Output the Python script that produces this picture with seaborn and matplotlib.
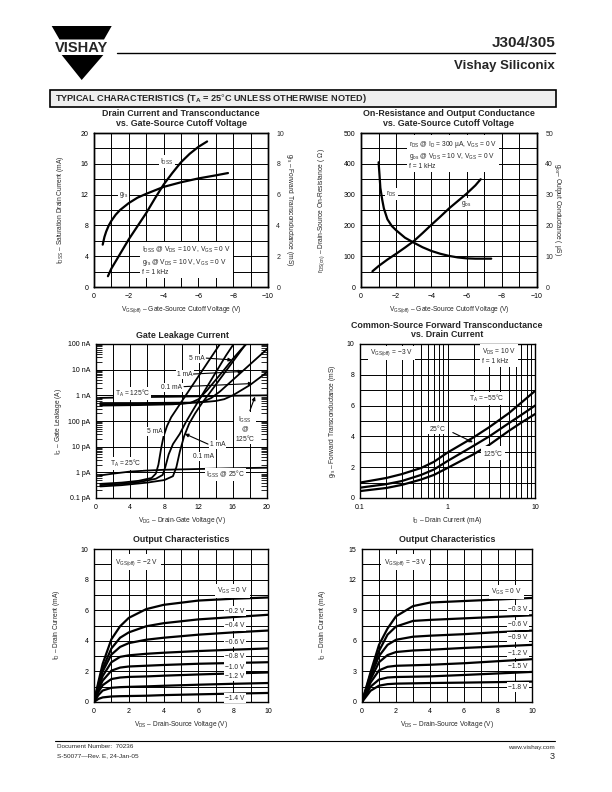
import numpy as np
import matplotlib
matplotlib.use("Agg")
import matplotlib.pyplot as plt
import seaborn as sns
from matplotlib import font_manager
from matplotlib.patches import Rectangle, Polygon
from matplotlib.lines import Line2D
from matplotlib.ticker import LogLocator, NullFormatter, FixedLocator

# ---------------- data ----------------
# Chart 1: Drain current / transconductance vs VGS(off)
idss_v = [-0.8, -1.0, -1.5, -2.0, -2.5, -3.0, -3.5, -4.0, -4.5, -5.0, -5.5, -6.0, -6.5]
idss_ma = [1.4, 2.4, 4.3, 6.2, 7.9, 9.6, 11.5, 13.3, 14.8, 16.2, 17.3, 18.2, 18.9]
gfs_v = [-0.5, -0.6, -0.7, -0.85, -1.0, -1.25, -1.5, -2.0, -2.5, -3.0, -4.0, -5.0, -6.0, -7.0, -7.7]
gfs_ms = [2.75, 3.25, 3.6, 4.0, 4.3, 4.7, 5.0, 5.45, 5.8, 6.05, 6.5, 6.8, 7.05, 7.25, 7.4]

# Chart 2: On-resistance / output conductance vs VGS(off)
rds_v = [-1.0, -1.05, -1.1, -1.2, -1.3, -1.5, -1.75, -2.0, -2.5, -3.0, -3.5, -4.0, -4.5, -5.0, -5.5, -6.0, -6.5, -7.0, -7.4]
rds_ohm = [405, 365, 322, 285, 255, 220, 198, 184, 160, 144, 129, 117, 108, 101, 96, 93, 92, 92, 92]
gos_v = [-0.65, -1.0, -1.5, -2.0, -2.5, -3.0, -3.5, -4.0, -4.5, -5.0, -5.5, -6.0, -6.5, -6.8]
gos_us = [5.1, 6.8, 8.9, 10.8, 12.8, 14.9, 17.5, 20.2, 22.8, 25.5, 27.9, 30.3, 33.0, 35.0]

# Chart 3: Gate leakage (log10 of amps) vs VDG
igss25_v = [0.5, 2, 4, 6, 8, 12, 16, 20]
igss25_log = [-12.12, -12.05, -11.97, -11.93, -11.9, -11.87, -11.84, -11.82]
ig25_5ma_v = [0.5, 3, 5, 6.5, 7.0, 7.3, 7.6, 7.9, 8.3, 8.8, 9.5, 10.3, 11, 12, 13, 14, 14.5]
ig25_5ma_log = [-12.45, -12.4, -12.33, -12.22, -12.05, -11.7, -11.1, -10.6, -10.2, -9.85, -9.5, -9.1, -8.75, -8.25, -7.75, -7.25, -7.0]
ig25_1ma_v = [0.5, 3, 5, 7, 7.8, 8.1, 8.5, 9.0, 9.8, 10.5, 11.3, 12.2, 13.2, 14.2, 15.2, 16.1]
ig25_1ma_log = [-12.5, -12.45, -12.38, -12.25, -12.1, -11.8, -11.3, -10.9, -10.5, -10.05, -9.6, -9.1, -8.55, -8.0, -7.45, -7.0]
ig25_01ma_v = [0.5, 3, 6, 8, 9.0, 9.4, 9.8, 10.3, 10.9, 11.6, 12.4, 13.2, 14.2, 15.2, 16.2, 17.2, 17.5]
ig25_01ma_log = [-12.55, -12.5, -12.4, -12.3, -12.15, -11.8, -11.2, -10.6, -10.1, -9.7, -9.3, -8.95, -8.5, -8.05, -7.6, -7.15, -7.0]
igss125_v = [0.5, 5, 10, 15, 20]
igss125_log = [-9.1, -9.07, -9.05, -9.02, -9.0]
ig125_5ma_v = [0.5, 5, 9, 11, 12, 13, 14, 15, 16, 17, 17.6]
ig125_5ma_log = [-9.4, -9.38, -9.35, -9.3, -9.15, -8.8, -8.4, -8.0, -7.58, -7.2, -7.0]
ig125_1ma_v = [0.5, 5, 10, 12.5, 13.5, 14.5, 15.5, 16.5, 17.5, 18.5, 20]
ig125_1ma_log = [-9.35, -9.34, -9.32, -9.25, -9.1, -8.85, -8.55, -8.25, -7.95, -7.65, -7.2]
ig125_01ma_v = [0.5, 5, 12, 14, 15, 16, 17, 18, 19, 20]
ig125_01ma_log = [-9.3, -9.3, -9.28, -9.22, -9.15, -9.0, -8.8, -8.6, -8.35, -8.1]

# Chart 4: gfs vs drain current
id_ma = [0.1, 0.2, 0.3, 0.5, 0.7, 1, 2, 3, 5, 7, 10]
gfs_m55 = [1.0, 1.3, 1.55, 1.95, 2.35, 2.95, 3.95, 4.6, 5.5, 6.2, 6.95]
gfs_25 = [0.67, 0.9, 1.1, 1.5, 1.85, 2.4, 3.4, 4.0, 4.85, 5.4, 6.0]
gfs_125 = [0.45, 0.65, 0.85, 1.2, 1.5, 1.95, 2.85, 3.45, 4.35, 4.9, 5.45]

# Chart 5: output characteristics, VGS(off) = -2 V
vds5 = [0, 0.25, 0.5, 1, 1.5, 2, 3, 4, 6, 8, 10]
out2_labels = ["0 V", "−0.2 V", "−0.4 V", "−0.6 V", "−0.8 V", "−1.0 V", "−1.2 V", "−1.4 V"]
out2_id = [
    [0, 1.3, 2.5, 4.1, 4.95, 5.5, 6.07, 6.35, 6.63, 6.75, 6.83],
    [0, 1.15, 2.2, 3.5, 4.2, 4.55, 4.95, 5.15, 5.4, 5.55, 5.7],
    [0, 1.05, 2.0, 3.1, 3.6, 3.85, 4.07, 4.2, 4.4, 4.55, 4.67],
    [0, 0.95, 1.7, 2.6, 2.95, 3.05, 3.15, 3.22, 3.33, 3.42, 3.5],
    [0, 0.8, 1.4, 2.05, 2.25, 2.32, 2.37, 2.42, 2.5, 2.55, 2.6],
    [0, 0.65, 1.1, 1.5, 1.6, 1.64, 1.67, 1.72, 1.8, 1.87, 1.93],
    [0, 0.45, 0.75, 0.93, 0.97, 0.99, 1.02, 1.06, 1.13, 1.19, 1.24],
    [0, 0.2, 0.3, 0.36, 0.38, 0.39, 0.41, 0.45, 0.5, 0.55, 0.59],
]
out2_lab_y = [7.26, 5.93, 4.98, 3.89, 2.96, 2.28, 1.67, 0.26]

# Chart 6: output characteristics, VGS(off) = -3 V
vds6 = [0, 0.5, 1, 1.5, 2, 3, 4, 6, 8, 10]
out3_labels = ["0 V", "−0.3 V", "−0.6 V", "−0.9 V", "−1.2 V", "−1.5 V", "−1.8 V"]
out3_id = [
    [0, 2.9, 5.6, 7.2, 8.4, 9.4, 9.75, 9.9, 10.05, 10.2],
    [0, 2.7, 5.0, 6.6, 7.4, 7.95, 8.05, 8.2, 8.35, 8.5],
    [0, 2.5, 4.5, 5.6, 6.1, 6.4, 6.5, 6.65, 6.85, 7.0],
    [0, 2.2, 3.9, 4.6, 4.9, 5.05, 5.12, 5.3, 5.45, 5.6],
    [0, 1.9, 3.1, 3.45, 3.55, 3.6, 3.65, 3.8, 4.0, 4.2],
    [0, 1.5, 2.2, 2.4, 2.45, 2.48, 2.51, 2.65, 2.8, 2.95],
    [0, 1.1, 1.6, 1.75, 1.8, 1.83, 1.86, 1.9, 1.95, 2.0],
]
out3_lab_y = [10.8, 9.03, 7.57, 6.36, 4.8, 3.49, 1.47]

# ---------------- style ----------------
sns.set_theme(style="white")
avail = {f.name for f in font_manager.fontManager.ttflist}
BASE = "Liberation Sans" if "Liberation Sans" in avail else "DejaVu Sans"
NARROW = "Liberation Sans Narrow" if "Liberation Sans Narrow" in avail else BASE
plt.rcParams["font.family"] = [BASE, "DejaVu Sans"]
plt.rcParams["mathtext.fontset"] = "custom"
plt.rcParams["mathtext.rm"] = BASE
plt.rcParams["mathtext.it"] = BASE + ":italic"
plt.rcParams["mathtext.bf"] = BASE + ":bold"
plt.rcParams["axes.unicode_minus"] = True

W, H = 612, 792
fig = plt.figure(figsize=(W / 100, H / 100), dpi=100)
fig.patch.set_facecolor("white")

LW = 1.6
TFS = 5.0   # tick font size
AFS = 4.8   # axis label font size


def P(x, y):
    return (x / W, 1 - y / H)


def add_axes(l, r, t, b):
    return fig.add_axes([l / W, 1 - b / H, (r - l) / W, (b - t) / H])


def style(ax):
    for s in ax.spines.values():
        s.set_color("black")
        s.set_linewidth(1.0)
    ax.set_facecolor("white")


def lin_grid(ax, xlim, ylim, xmaj, xmin, ymaj, ymin, xlabels=None, ylabels=None):
    ax.set_xlim(xlim)
    ax.set_ylim(ylim)
    ax.set_xticks(xmaj)
    ax.set_yticks(ymaj)
    ax.set_xticks(xmin, minor=True)
    ax.set_yticks(ymin, minor=True)
    if xlabels is not None:
        ax.set_xticklabels(xlabels)
    if ylabels is not None:
        ax.set_yticklabels(ylabels)
    ax.grid(which="both", color="black", lw=0.7)
    ax.tick_params(which="both", length=0, labelsize=TFS, pad=4, colors="black")
    style(ax)


def lab(ax, x, y, s, ha="center", va="center", fs=4.8, z=5, pad=0.15, ls=1.2):
    ax.text(x, y, s, ha=ha, va=va, fontsize=fs, zorder=z, linespacing=ls,
            bbox=dict(boxstyle=f"square,pad={pad}", fc="white", ec="none"))


def arrow(ax, start, tip):
    ax.annotate("", xy=tip, xytext=start, zorder=6,
                arrowprops=dict(arrowstyle="-|>", color="black", lw=0.8,
                                mutation_scale=5, shrinkA=0, shrinkB=0))


def curve(ax, x, y, lw=LW):
    sns.lineplot(x=np.asarray(x, float), y=np.asarray(y, float), ax=ax, color="black",
                 linewidth=lw, estimator=None, sort=False, zorder=3, legend=False)


def title(xc, lines, y0, dy=9.5):
    for i, t in enumerate(lines):
        fig.text(*P(xc, y0 + i * dy), t, ha="center", va="center", fontsize=6.4,
                 fontweight="bold", family=[NARROW, BASE])


def ylab(x, yc, s, rot=90):
    fig.text(*P(x, yc), s, ha="center", va="center", rotation=rot, fontsize=AFS)


def xlab(xc, y, s):
    fig.text(*P(xc, y), s, ha="center", va="center", fontsize=AFS)


def neg_labels(vals):
    return ["0" if v == 0 else "−%g" % abs(v) for v in vals]


DASH = "–"
DEG = r"$\degree$"

# ---------------- header ----------------
fig.add_artist(Polygon([P(51.7, 26), P(111.7, 26), P(104, 39.5), P(59.5, 39.5)],
                       closed=True, transform=fig.transFigure, fc="black", ec="none"))
fig.add_artist(Polygon([P(61.7, 55), P(103.3, 55), P(81.7, 80)],
                       closed=True, transform=fig.transFigure, fc="black", ec="none"))
fig.text(*P(81.7, 47.5), "VISHAY", ha="center", va="center", fontsize=10.5,
         fontweight="bold", family=[NARROW, BASE])
fig.add_artist(Line2D([117 / W, 555 / W], [1 - 53 / H, 1 - 53 / H], color="black", lw=1.0,
                      transform=fig.transFigure))
fig.text(*P(555, 43), "J304/305", ha="right", va="center", fontsize=11, fontweight="bold",
         family=[NARROW, BASE])
fig.text(*P(555, 66), "Vishay Siliconix", ha="right", va="center", fontsize=9.5,
         fontweight="bold", family=[NARROW, BASE])
fig.add_artist(Rectangle(P(50, 107), 506 / W, 17 / H, transform=fig.transFigure,
                         fc="#efefef", ec="black", lw=1.2))
fig.text(*P(55, 98.5), r"TYPICAL CHARACTERISTICS (T$\mathbf{_A}$ = 25$\degree$C UNLESS OTHERWISE NOTED)",
         ha="left", va="center", fontsize=6.6, fontweight="bold")

# ---------------- chart 1 ----------------
ax1 = add_axes(94, 268, 133, 287)
lin_grid(ax1, (0, -10), (0, 20), [0, -2, -4, -6, -8, -10], list(range(-1, -10, -1)),
         [0, 4, 8, 12, 16, 20], [2, 6, 10, 14, 18], xlabels=neg_labels([0, 2, 4, 6, 8, 10]))
curve(ax1, idss_v, idss_ma)
ax1b = ax1.twinx()
ax1b.set_ylim(0, 10)
ax1b.set_yticks([0, 2, 4, 6, 8, 10])
ax1b.tick_params(length=0, labelsize=TFS, pad=6)
style(ax1b)
curve(ax1b, gfs_v, gfs_ms)
ax1b.set_xlim(0, -10)
lab(ax1, -4.2, 16.3, r"$\mathregular{I_{DSS}}$")
lab(ax1, -1.7, 12.0, r"$\mathregular{g_{fs}}$")
lab(ax1, -2.75, 3.45, r"$\mathregular{I_{DSS}}$ @ $\mathregular{V_{DS}}$ = 10 V, $\mathregular{V_{GS}}$ = 0 V" "\n"
    r"$\mathregular{g_{fs}}$ @ $\mathregular{V_{DS}}$ = 10 V, $\mathregular{V_{GS}}$ = 0 V" "\n" "f = 1 kHz",
    ha="left", pad=0.3)
title(181, ["Drain Current and Transconductance", "vs. Gate-Source Cutoff Voltage"], 114)
ylab(61, 210, r"$\mathregular{I_{DSS}}$ " + DASH + " Saturation Drain Current (mA)")
ylab(289, 210, r"$\mathregular{g_{fs}}$ " + DASH + " Forward Transconductance (mS)", rot=270)
xlab(181, 310, r"$\mathregular{V_{GS(off)}}$ " + DASH + " Gate-Source Cutoff Voltage (V)")

# ---------------- chart 2 ----------------
ax2 = add_axes(361, 537, 133, 287)
lin_grid(ax2, (0, -10), (0, 500), [0, -2, -4, -6, -8, -10], list(range(-1, -10, -1)),
         [0, 100, 200, 300, 400, 500], [50, 150, 250, 350, 450], xlabels=neg_labels([0, 2, 4, 6, 8, 10]))
curve(ax2, rds_v, rds_ohm)
ax2b = ax2.twinx()
ax2b.set_ylim(0, 50)
ax2b.set_yticks([0, 10, 20, 30, 40, 50])
ax2b.tick_params(length=0, labelsize=TFS, pad=6)
style(ax2b)
curve(ax2b, gos_v, gos_us)
ax2b.set_xlim(0, -10)
lab(ax2, -1.72, 303, r"$\mathregular{r_{DS}}$")
lab(ax2, -5.97, 271, r"$\mathregular{g_{os}}$")
lab(ax2, -2.75, 431, r"$\mathregular{r_{DS}}$ @ $\mathregular{I_D}$ = 300 µA, $\mathregular{V_{GS}}$ = 0 V" "\n"
    r"$\mathregular{g_{os}}$ @ $\mathregular{V_{DS}}$ = 10 V, $\mathregular{V_{GS}}$ = 0 V" "\n" "f = 1 kHz",
    ha="left", pad=0.3)
title(449, ["On-Resistance and Output Conductance", "vs. Gate-Source Cutoff Voltage"], 114)
ylab(322, 210, r"$\mathregular{r_{DS(on)}}$ " + DASH + " Drain-Source On-Resistance ( Ω )")
ylab(558, 210, r"$\mathregular{g_{os}}$" + DASH + " Output Conductance ( µS)", rot=270)
xlab(449, 310, r"$\mathregular{V_{GS(off)}}$ " + DASH + " Gate-Source Cutoff Voltage (V)")

# ---------------- chart 3 ----------------
ax3 = add_axes(96, 267, 344, 498)
ax3.set_yscale("log")
ax3.set_xlim(0, 20)
ax3.set_ylim(1e-13, 1e-7)
ax3.set_xticks([0, 4, 8, 12, 16, 20])
ax3.set_xticks([2, 6, 10, 14, 18], minor=True)
ax3.yaxis.set_major_locator(FixedLocator([1e-13, 1e-12, 1e-11, 1e-10, 1e-9, 1e-8, 1e-7]))
ax3.set_yticklabels(["0.1 pA", "1 pA", "10 pA", "100 pA", "1 nA", "10 nA", "100 nA"])
ax3.yaxis.set_minor_locator(LogLocator(base=10, subs=np.arange(2, 10), numticks=20))
ax3.yaxis.set_minor_formatter(NullFormatter())
ax3.grid(which="major", axis="both", color="black", lw=0.7)
ax3.grid(which="minor", axis="x", color="black", lw=0.7)
ax3.tick_params(which="major", length=0, labelsize=TFS, pad=4, colors="black")
ax3.tick_params(axis="x", which="minor", length=0)
ax3.tick_params(axis="y", which="minor", direction="in", length=4, width=0.6,
                left=True, right=True, color="black")
style(ax3)
for vv, ll in [(igss25_v, igss25_log), (ig25_5ma_v, ig25_5ma_log), (ig25_1ma_v, ig25_1ma_log),
               (ig25_01ma_v, ig25_01ma_log), (igss125_v, igss125_log), (ig125_5ma_v, ig125_5ma_log),
               (ig125_1ma_v, ig125_1ma_log), (ig125_01ma_v, ig125_01ma_log)]:
    curve(ax3, vv, 10.0 ** np.asarray(ll), lw=1.3)
E = lambda e: 10.0 ** e
lab(ax3, 4.3, E(-8.93), r"$\mathregular{T_A}$ = 125" + DEG + "C")
lab(ax3, 3.5, E(-11.65), r"$\mathregular{T_A}$ = 25" + DEG + "C")
lab(ax3, 11.8, E(-7.57), "5 mA")
arrow(ax3, (12.9, E(-7.55)), (15.9, E(-7.62)))
lab(ax3, 10.4, E(-8.19), "1 mA")
arrow(ax3, (11.4, E(-8.17)), (17.1, E(-8.07)))
lab(ax3, 8.85, E(-8.69), "0.1 mA")
arrow(ax3, (10.3, E(-8.66)), (18.3, E(-8.54)))
lab(ax3, 17.4, E(-10.3), r"$\mathregular{I_{GSS}}$" "\n@\n125" + DEG + "C", ls=1.1)
arrow(ax3, (18.0, E(-9.6)), (18.6, E(-9.05)))
lab(ax3, 6.9, E(-10.42), "5 mA")
lab(ax3, 14.2, E(-10.93), "1 mA")
arrow(ax3, (13.1, E(-10.9)), (10.4, E(-10.5)))
lab(ax3, 12.6, E(-11.4), "0.1 mA")
lab(ax3, 15.1, E(-12.08), r"$\mathregular{I_{GSS}}$ @ 25" + DEG + "C")
title(182, ["Gate Leakage Current"], 335)
ylab(59, 421, r"$\mathregular{I_G}$ " + DASH + " Gate Leakage (A)")
xlab(182, 520, r"$\mathregular{V_{DG}}$ " + DASH + " Drain-Gate Voltage (V)")

# ---------------- chart 4 ----------------
ax4 = add_axes(360, 535, 344, 498)
ax4.set_xscale("log")
ax4.set_xlim(0.1, 10)
ax4.set_ylim(0, 10)
ax4.xaxis.set_major_locator(FixedLocator([0.1, 1, 10]))
ax4.set_xticklabels(["0.1", "1", "10"])
ax4.xaxis.set_minor_locator(FixedLocator(list(np.arange(2, 10) * 0.1) + list(np.arange(2, 10) * 1.0)))
ax4.xaxis.set_minor_formatter(NullFormatter())
ax4.set_yticks([0, 2, 4, 6, 8, 10])
ax4.set_yticks([1, 3, 5, 7, 9], minor=True)
ax4.grid(which="both", color="black", lw=0.7)
ax4.tick_params(which="both", length=0, labelsize=TFS, pad=4, colors="black")
style(ax4)
curve(ax4, id_ma, gfs_m55)
curve(ax4, id_ma, gfs_25)
curve(ax4, id_ma, gfs_125)
lab(ax4, 0.23, 9.42, r"$\mathregular{V_{GS(off)}}$ = −3 V", pad=0.3)
lab(ax4, 2.45, 9.2, r"$\mathregular{V_{DS}}$ = 10 V" "\n" "f = 1 kHz", ha="left", pad=0.3)
lab(ax4, 2.8, 6.48, r"$\mathregular{T_A}$ = −55" + DEG + "C")
lab(ax4, 0.77, 4.57, "25" + DEG + "C")
arrow(ax4, (1.15, 4.25), (1.95, 3.62))
lab(ax4, 3.33, 2.89, "125" + DEG + "C", pad=0.3)
title(447, ["Common-Source Forward Transconductance", "vs. Drain Current"], 325)
ylab(333, 421, r"$\mathregular{g_{fs}}$ " + DASH + " Forward Transconductance (mS)")
xlab(447, 520, r"$\mathregular{I_D}$ " + DASH + " Drain Current (mA)")

# ---------------- chart 5 ----------------
ax5 = add_axes(94, 268, 549, 702)
lin_grid(ax5, (0, 10), (0, 10), [0, 2, 4, 6, 8, 10], [1, 3, 5, 7, 9],
         [0, 2, 4, 6, 8, 10], [1, 3, 5, 7, 9])
for ids in out2_id:
    curve(ax5, vds5, ids)
lab(ax5, 2.44, 9.13, r"$\mathregular{V_{GS(off)}}$ = −2 V", pad=0.4)
for i, (t, y) in enumerate(zip(out2_labels, out2_lab_y)):
    if i == 0:
        lab(ax5, 7.95, y, r"$\mathregular{V_{GS}}$ = " + t, pad=0.3)
    else:
        lab(ax5, 8.1, y, t, pad=0.2)
title(181, ["Output Characteristics"], 540)
ylab(57, 625, r"$\mathregular{I_D}$ " + DASH + " Drain Current (mA)")
xlab(181, 724, r"$\mathregular{V_{DS}}$ " + DASH + " Drain-Source Voltage (V)")

# ---------------- chart 6 ----------------
ax6 = add_axes(362, 532, 549, 702)
lin_grid(ax6, (0, 10), (0, 15), [0, 2, 4, 6, 8, 10], [1, 3, 5, 7, 9],
         [0, 3, 6, 9, 12, 15], [1.5, 4.5, 7.5, 10.5, 13.5])
for ids in out3_id:
    curve(ax6, vds6, ids)
lab(ax6, 2.54, 13.7, r"$\mathregular{V_{GS(off)}}$ = −3 V", pad=0.4)
for i, (t, y) in enumerate(zip(out3_labels, out3_lab_y)):
    if i == 0:
        lab(ax6, 8.5, y, r"$\mathregular{V_{GS}}$ = " + t, pad=0.3)
    else:
        lab(ax6, 9.15, y, t, pad=0.2)
title(447, ["Output Characteristics"], 540)
ylab(322, 625, r"$\mathregular{I_D}$ " + DASH + " Drain Current (mA)")
xlab(447, 724, r"$\mathregular{V_{DS}}$ " + DASH + " Drain-Source Voltage (V)")

# ---------------- footer ----------------
fig.add_artist(Line2D([55 / W, 555 / W], [1 - 741 / H, 1 - 741 / H], color="black", lw=0.8,
                      transform=fig.transFigure))
fig.text(*P(57, 747), "Document Number:  70236", ha="left", va="center", fontsize=4.6)
fig.text(*P(57, 755.5), "S-50077—Rev. E, 24-Jan-05", ha="left", va="center", fontsize=4.6)
fig.text(*P(555, 747), "www.vishay.com", ha="right", va="center", fontsize=4.6)
fig.text(*P(555, 756.5), "3", ha="right", va="center", fontsize=6.5)

fig.savefig("out.png", dpi=100)
